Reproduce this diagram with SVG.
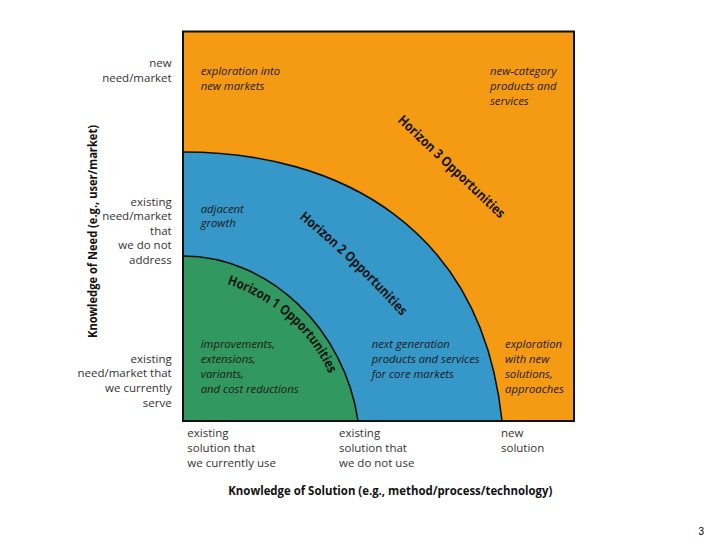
<svg xmlns="http://www.w3.org/2000/svg" width="720" height="540" viewBox="0 0 720 540">
  <style>
    .lbl { font-family: "Open Sans", "Liberation Sans", sans-serif; font-size: 11.5px; fill: #333333; }
    .rt { text-anchor: end; }
    .it { font-family: "Open Sans", "Liberation Sans", sans-serif; font-size: 11.3px; font-style: italic; fill: #1e1a1a; }
    .hz { font-family: "Open Sans", "Liberation Sans", sans-serif; font-size: 13.5px; font-weight: bold; fill: #141414; }
    .ax { font-family: "Open Sans", "Liberation Sans", sans-serif; font-size: 12px; font-weight: bold; fill: #111111; }
    .edge { fill: none; stroke: #111111; stroke-width: 1.6; }
  </style>
  <defs>
    <path id="p3" d="M397,121 L501,220"/>
    <path id="p2" d="M299,218 Q 353,262 402,317"/>
    <path id="p1" d="M227,284 C 270,298 312,330 332,381"/>
  </defs>
  <rect width="720" height="540" fill="#ffffff"/>

  <g id="horizon3">
    <rect x="183" y="31.5" width="391" height="389.5" fill="#F59B13"/>
    <text class="it" x="200.7" y="75">exploration into</text>
    <text class="it" x="200.7" y="90">new markets</text>
    <text class="it" x="490" y="75">new-category</text>
    <text class="it" x="490" y="90">products and</text>
    <text class="it" x="490" y="105">services</text>
    <text class="it" x="505" y="348.3">exploration</text>
    <text class="it" x="505" y="363.3">with new</text>
    <text class="it" x="505" y="378.3">solutions,</text>
    <text class="it" x="505" y="393.3">approaches</text>
    <text class="hz"><textPath href="#p3" textLength="142" lengthAdjust="spacingAndGlyphs">Horizon 3 Opportunities</textPath></text>
  </g>

  <g id="horizon2">
    <path d="M183,152 C 340,152 482,228 502,421 L183,421 Z" fill="#3598C9"/>
    <text class="it" x="200.7" y="212.7">adjacent</text>
    <text class="it" x="200.7" y="226.7">growth</text>
    <text class="it" x="371.7" y="348.3">next generation</text>
    <text class="it" x="371.7" y="363.3">products and services</text>
    <text class="it" x="371.7" y="378.3">for core markets</text>
    <text class="hz"><textPath href="#p2" textLength="142" lengthAdjust="spacingAndGlyphs">Horizon 2 Opportunities</textPath></text>
  </g>

  <g id="horizon1">
    <path d="M183,256 C 270,256 345,330 358,421 L183,421 Z" fill="#31985F"/>
    <text class="it" x="200.7" y="348.3">improvements,</text>
    <text class="it" x="200.7" y="363.3">extensions,</text>
    <text class="it" x="200.7" y="378.3">variants,</text>
    <text class="it" x="200.7" y="393.3">and cost reductions</text>
    <text class="hz"><textPath href="#p1" textLength="140" lengthAdjust="spacingAndGlyphs">Horizon 1 Opportunities</textPath></text>
  </g>

  <g id="connectors">
    <path class="edge" d="M183,152 C 340,152 482,228 502,421"/>
    <path class="edge" d="M183,256 C 270,256 345,330 358,421"/>
    <rect x="183" y="31.5" width="391" height="389.5" fill="none" stroke="#111111" stroke-width="2"/>
  </g>

  <g id="need-labels">
    <text class="lbl rt" x="171.7" y="66.7">new</text>
    <text class="lbl rt" x="171.7" y="81.7">need/market</text>
    <text class="lbl rt" x="171.7" y="205.7">existing</text>
    <text class="lbl rt" x="171.7" y="220.3">need/market</text>
    <text class="lbl rt" x="171.7" y="234.8">that</text>
    <text class="lbl rt" x="171.7" y="249.3">we do not</text>
    <text class="lbl rt" x="171.7" y="263.8">address</text>
    <text class="lbl rt" x="171.7" y="362.7">existing</text>
    <text class="lbl rt" x="171.7" y="377.4">need/market that</text>
    <text class="lbl rt" x="171.7" y="392.1">we currently</text>
    <text class="lbl rt" x="171.7" y="406.8">serve</text>
  </g>

  <g id="solution-labels">
    <text class="lbl" x="187.3" y="436.7">existing</text>
    <text class="lbl" x="187.3" y="451.7">solution that</text>
    <text class="lbl" x="187.3" y="466.7">we currently use</text>
    <text class="lbl" x="339" y="436.7">existing</text>
    <text class="lbl" x="339" y="451.7">solution that</text>
    <text class="lbl" x="339" y="466.7">we do not use</text>
    <text class="lbl" x="501" y="436.7">new</text>
    <text class="lbl" x="501" y="451.7">solution</text>
  </g>

  <g id="axis-titles">
    <text class="ax" x="228.3" y="495" textLength="324" lengthAdjust="spacingAndGlyphs">Knowledge of Solution (e.g., method/process/technology)</text>
    <text class="ax" transform="translate(97,338) rotate(-90)" x="0" y="0" textLength="213" lengthAdjust="spacingAndGlyphs">Knowledge of Need (e.g., user/market)</text>
  </g>

  <text id="page-number" x="704" y="535" font-family="Liberation Sans, Arial, sans-serif" font-size="10" fill="#000000" text-anchor="end">3</text>
</svg>
